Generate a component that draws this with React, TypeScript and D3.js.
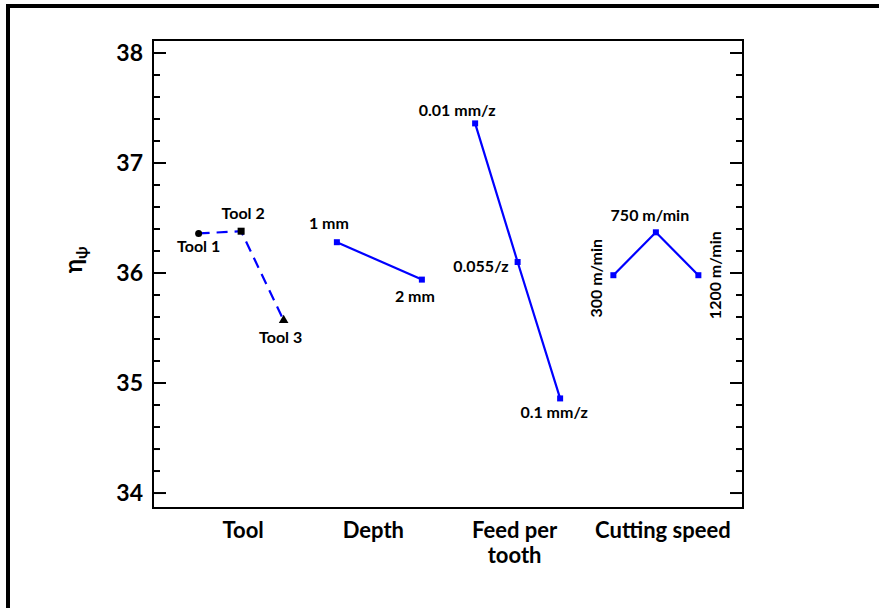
import React from "react";
import * as d3 from "d3";

const groups = ["Tool", "Depth", "Feed per tooth", "Cutting speed"];
const groupLabelLines = [["Tool"], ["Depth"], ["Feed per", "tooth"], ["Cutting speed"]];
const toolLevels = ["Tool 1", "Tool 2", "Tool 3"];
const toolValues = [36.36, 36.38, 35.57];
const depthLevels = ["1 mm", "2 mm"];
const depthValues = [36.28, 35.94];
const feedLevels = ["0.01 mm/z", "0.055/z", "0.1 mm/z"];
const feedValues = [37.36, 36.1, 34.86];
const speedLevels = ["300 m/min", "750 m/min", "1200 m/min"];
const speedValues = [35.98, 36.37, 35.98];
const yTicks = [34, 35, 36, 37, 38];

// label placement (styling) per group, per level: [dx, dy, anchor, rotate]
const labelPlacement: [number, number, string, number][][] = [
  [[0, 19, "middle", 0], [2, -12, "middle", 0], [-3, 23, "middle", 0]],
  [[-8, -13, "middle", 0], [-7, 22, "middle", 0]],
  [[-18, -7, "middle", 0], [-9, 10, "end", 0], [-6, 20, "middle", 0]],
  [[-17, 3, "middle", -90], [-6, -11, "middle", 0], [17, 0, "middle", -90]],
];
const groupLabelShift = [2, -6, -3, 7];

const W = 879, H = 608;
const plot = { left: 153, right: 743, top: 40, bottom: 508 };

export default function App() {
  const y = d3.scaleLinear().domain([33.864, 38.118]).range([plot.bottom, plot.top]);
  const xGroup = d3.scaleBand().domain(groups).range([172, 725]).padding(0);
  const series = [
    { levels: toolLevels, values: toolValues, dashed: true },
    { levels: depthLevels, values: depthValues, dashed: false },
    { levels: feedLevels, values: feedValues, dashed: false },
    { levels: speedLevels, values: speedValues, dashed: false },
  ];
  const line = d3.line<[number, number]>().x((d) => d[0]).y((d) => d[1]);
  const minorTicks = d3.range(34, 38.0001, 0.2).map((v) => Math.round(v * 10) / 10);
  const font = "Lato, 'Open Sans', sans-serif";

  return (
    <svg width={W} height={H} style={{ position: "absolute", left: 0, top: 0, background: "#fff" }}
      fontFamily={font}>
      <rect x={0} y={0} width={W} height={H} fill="#fff" />
      {/* outer frame (top and left) */}
      <line x1={8} y1={6} x2={W} y2={6} stroke="#000" strokeWidth={4} />
      <line x1={8} y1={4} x2={8} y2={H} stroke="#000" strokeWidth={4} />

      {/* plot box */}
      <rect x={plot.left} y={plot.top} width={plot.right - plot.left} height={plot.bottom - plot.top}
        fill="none" stroke="#000" strokeWidth={2} />
      {minorTicks.map((v) => {
        const major = Math.abs(v - Math.round(v)) < 1e-6;
        const len = major ? 13 : 7;
        return (
          <g key={v}>
            <line x1={plot.left} x2={plot.left + len} y1={y(v)} y2={y(v)} stroke="#000" strokeWidth={2} />
            <line x1={plot.right - len} x2={plot.right} y1={y(v)} y2={y(v)} stroke="#000" strokeWidth={2} />
          </g>
        );
      })}
      {yTicks.map((t) => (
        <text key={t} x={plot.left - 10} y={y(t)} dy="0.35em" textAnchor="end" fontSize={23}
          fontWeight="bold" fill="#000">{t}</text>
      ))}
      <text transform={`translate(82,${y(36.12)}) rotate(-90)`} textAnchor="middle" fontSize={24} fontWeight="bold">
        η<tspan fontSize={16} dy={5}>ψ</tspan>
      </text>

      {/* series */}
      {series.map((s, gi) => {
        const g = groups[gi];
        const cx = (xGroup(g) as number) + xGroup.bandwidth() / 2;
        const xl = d3.scalePoint().domain(s.levels).range([cx - 42.5, cx + 42.5]);
        const pts: [number, number][] = s.levels.map((l, i) => [xl(l) as number, y(s.values[i])]);
        return (
          <g key={g}>
            <path d={line(pts) as string} fill="none" stroke="#0000ff" strokeWidth={2.2}
              strokeDasharray={s.dashed ? "11,7" : undefined} />
            {pts.map((p, i) => {
              if (gi === 0) {
                if (i === 0) return <circle key={i} cx={p[0]} cy={p[1]} r={3.5} fill="#000" />;
                if (i === 1) return <rect key={i} x={p[0] - 3.5} y={p[1] - 3.5} width={7} height={7} fill="#000" />;
                return <path key={i} d={d3.symbol(d3.symbolTriangle, 40)() as string}
                  transform={`translate(${p[0]},${p[1]})`} fill="#000" />;
              }
              return <rect key={i} x={p[0] - 3} y={p[1] - 3} width={6} height={6} fill="#0000ff" />;
            })}
            {pts.map((p, i) => {
              const [dx, dy, anchor, rot] = labelPlacement[gi][i];
              return (
                <text key={"l" + i} transform={`translate(${p[0] + dx},${p[1] + dy}) rotate(${rot})`}
                  textAnchor={anchor} fontSize={16} fontWeight="bold" fill="#000"
                  dy={rot !== 0 ? "0.35em" : undefined}>
                  {s.levels[i]}
                </text>
              );
            })}
          </g>
        );
      })}

      {/* category labels */}
      {groups.map((g, gi) => {
        const cx = (xGroup(g) as number) + xGroup.bandwidth() / 2 + groupLabelShift[gi];
        return (
          <text key={g} x={cx} y={538} textAnchor="middle" fontSize={22} fontWeight="bold" fill="#000">
            {groupLabelLines[gi].map((ln, li) => (
              <tspan key={li} x={cx} dy={li === 0 ? 0 : 25}>{ln}</tspan>
            ))}
          </text>
        );
      })}
    </svg>
  );
}
